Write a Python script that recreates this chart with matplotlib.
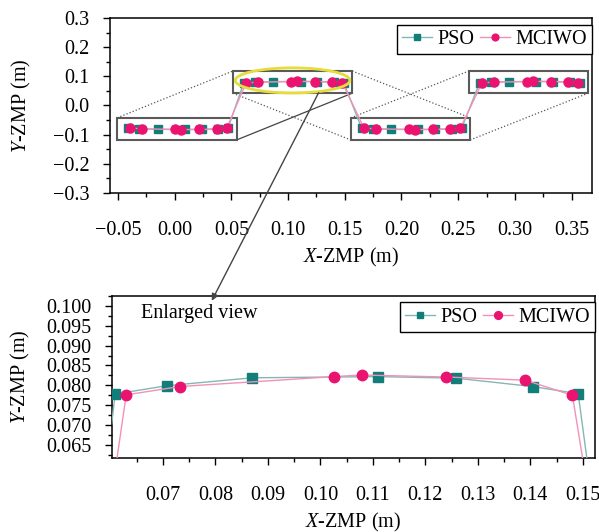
import matplotlib
matplotlib.use("Agg")
from matplotlib import pyplot as plt
from matplotlib.patches import Rectangle, Ellipse, ConnectionPatch
from matplotlib.ticker import MultipleLocator
import numpy as np

plt.rcParams['font.family'] = ['Liberation Serif', 'DejaVu Serif']
plt.rcParams['mathtext.fontset'] = 'custom'
plt.rcParams['mathtext.rm'] = 'Liberation Serif'
plt.rcParams['mathtext.it'] = 'Liberation Serif:italic'
plt.rcParams['font.size'] = 14

# ZMP trajectory, four footsteps
pso_x = [-0.0411, -0.0313, -0.0150, 0.0090, 0.0239, 0.0384, 0.0471,
         0.0609, 0.0707, 0.0870, 0.1110, 0.1259, 0.1404, 0.1491,
         0.1649, 0.1747, 0.1910, 0.2150, 0.2299, 0.2444, 0.2531,
         0.2689, 0.2787, 0.2950, 0.3190, 0.3339, 0.3484, 0.3571]
pso_y = [-0.0778, -0.0799, -0.0819, -0.0822, -0.0818, -0.0797, -0.0779,
         0.0778, 0.0799, 0.0819, 0.0822, 0.0818, 0.0797, 0.0779,
         -0.0778, -0.0799, -0.0819, -0.0822, -0.0818, -0.0797, -0.0779,
         0.0778, 0.0799, 0.0819, 0.0822, 0.0818, 0.0797, 0.0779]
mciwo_x = [-0.0390, -0.0288, 0.0006, 0.0060, 0.0219, 0.0370, 0.0460,
           0.0630, 0.0732, 0.1026, 0.1080, 0.1239, 0.1390, 0.1480,
           0.1670, 0.1772, 0.2066, 0.2120, 0.2279, 0.2430, 0.2520,
           0.2710, 0.2812, 0.3106, 0.3160, 0.3319, 0.3470, 0.3560]
mciwo_y = [-0.0776, -0.0797, -0.0822, -0.0826, -0.0821, -0.0813, -0.0775,
           0.0776, 0.0797, 0.0822, 0.0826, 0.0821, 0.0813, 0.0775,
           -0.0776, -0.0797, -0.0822, -0.0826, -0.0821, -0.0813, -0.0775,
           0.0776, 0.0797, 0.0822, 0.0826, 0.0821, 0.0813, 0.0775]
steps_per_foot = 7

pso_col, pso_line = '#127e7a', '#86b6b3'
mci_col, mci_line = '#ea1470', '#f291b8'

fig = plt.figure(figsize=(5.99, 5.32), dpi=100)
ax1 = fig.add_axes([0.1836, 0.6372, 0.8047, 0.3290])
ax2 = fig.add_axes([0.1870, 0.1391, 0.8063, 0.3045])


def draw(ax, ms_s, ms_c):
    ax.plot(pso_x, pso_y, color=pso_line, lw=1, marker='s', ms=ms_s,
            mfc=pso_col, mec=pso_col, label='PSO', zorder=3)
    ax.plot(mciwo_x, mciwo_y, color=mci_line, lw=1, marker='o', ms=ms_c,
            mfc=mci_col, mec=mci_col, label='MCIWO', zorder=3)
    ax.legend(ncol=2, loc='upper right', bbox_to_anchor=(1.0, 1 - 7 / 175),
              borderaxespad=0, fancybox=False, edgecolor='black',
              framealpha=1, handlelength=1.5, handletextpad=0.25,
              columnspacing=0.3, borderpad=0.25, markerscale=0.75,
              fontsize=14.5)
    ax.tick_params(which='major', direction='out', length=5, width=1,
                   labelsize=14.5)
    ax.tick_params(which='minor', direction='out', length=3, width=1)
    ax.tick_params(axis='x', which='major', pad=15)
    ax.tick_params(axis='y', which='major', pad=10)
    for s in ax.spines.values():
        s.set_linewidth(1.1)


draw(ax1, 5.5, 6.5)
ax1.set_xlim(-0.057, 0.368)
ax1.set_ylim(-0.3, 0.3)
ax1.xaxis.set_major_locator(MultipleLocator(0.05))
ax1.xaxis.set_minor_locator(MultipleLocator(0.025))
ax1.yaxis.set_major_locator(MultipleLocator(0.1))
ax1.yaxis.set_minor_locator(MultipleLocator(0.05))
ax1.set_xlabel('$\\it{X}$-ZMP (m)', va='center', fontsize=14.5)
ax1.set_ylabel('$\\it{Y}$-ZMP (m)', va='center', fontsize=14.5)
ax1.xaxis.set_label_coords(0.5, -0.371)
ax1.yaxis.set_label_coords(-0.183, 0.5)

# boxes around each footstep
boxes = []
for k in range(len(pso_x) // steps_per_foot):
    sl = slice(k * steps_per_foot, (k + 1) * steps_per_foot)
    xs = pso_x[sl] + mciwo_x[sl]
    ym = np.mean(pso_y[sl])
    x0, x1 = min(xs) - 0.0095, max(xs) + 0.0075
    y0, y1 = ym - 0.038, ym + 0.038
    boxes.append((x0, x1, y0, y1))
    ax1.add_patch(Rectangle((x0, y0), x1 - x0, y1 - y0, fill=False,
                            ec='#5a5a5a', lw=1.5, zorder=2))

L, C, CR, R = boxes
conn = [((L[0], L[3]), (C[0], C[3]), ':', '#555555'),
        ((L[1], L[2]), (C[1], C[2]), '-', '#444444'),
        ((C[0], C[2]), (CR[0], CR[2]), ':', '#555555'),
        ((C[1], C[3]), (CR[1], CR[3]), ':', '#555555'),
        ((CR[0], CR[3]), (R[0], R[3]), ':', '#555555'),
        ((CR[1], CR[2]), (R[1], R[2]), ':', '#555555')]
for p, q, ls, c in conn:
    ax1.plot([p[0], q[0]], [p[1], q[1]], ls=ls, color=c, lw=0.9, zorder=1)

ax1.add_patch(Ellipse((0.104, 0.086), 0.101, 0.086, fill=False,
                      ec='#e6dc3c', lw=2, zorder=4))

draw(ax2, 6.5, 7.5)
ax2.set_xlim(0.0603, 0.1523)
ax2.set_ylim(0.0617, 0.1025)
ax2.xaxis.set_major_locator(MultipleLocator(0.01))
ax2.xaxis.set_minor_locator(MultipleLocator(0.005))
ax2.yaxis.set_major_locator(MultipleLocator(0.005))
ax2.yaxis.set_minor_locator(MultipleLocator(0.0025))
ax2.set_xlabel('$\\it{X}$-ZMP (m)', va='center', fontsize=14.5)
ax2.set_ylabel('$\\it{Y}$-ZMP (m)', va='center', fontsize=14.5)
ax2.xaxis.set_label_coords(0.5, -0.395)
ax2.yaxis.set_label_coords(-0.19, 0.5)
ax2.text(0.0659, 0.0982, 'Enlarged view', ha='left', va='center',
         fontsize=14.5)

arrow = ConnectionPatch(xyA=(0.127, 0.044), coordsA=ax1.transData,
                        xyB=(0.0793, 0.1013), coordsB=ax2.transData,
                        arrowstyle='-|>', color='#444444', lw=1,
                        mutation_scale=10, zorder=10)
fig.add_artist(arrow)

fig.savefig('out.png', dpi=100)
